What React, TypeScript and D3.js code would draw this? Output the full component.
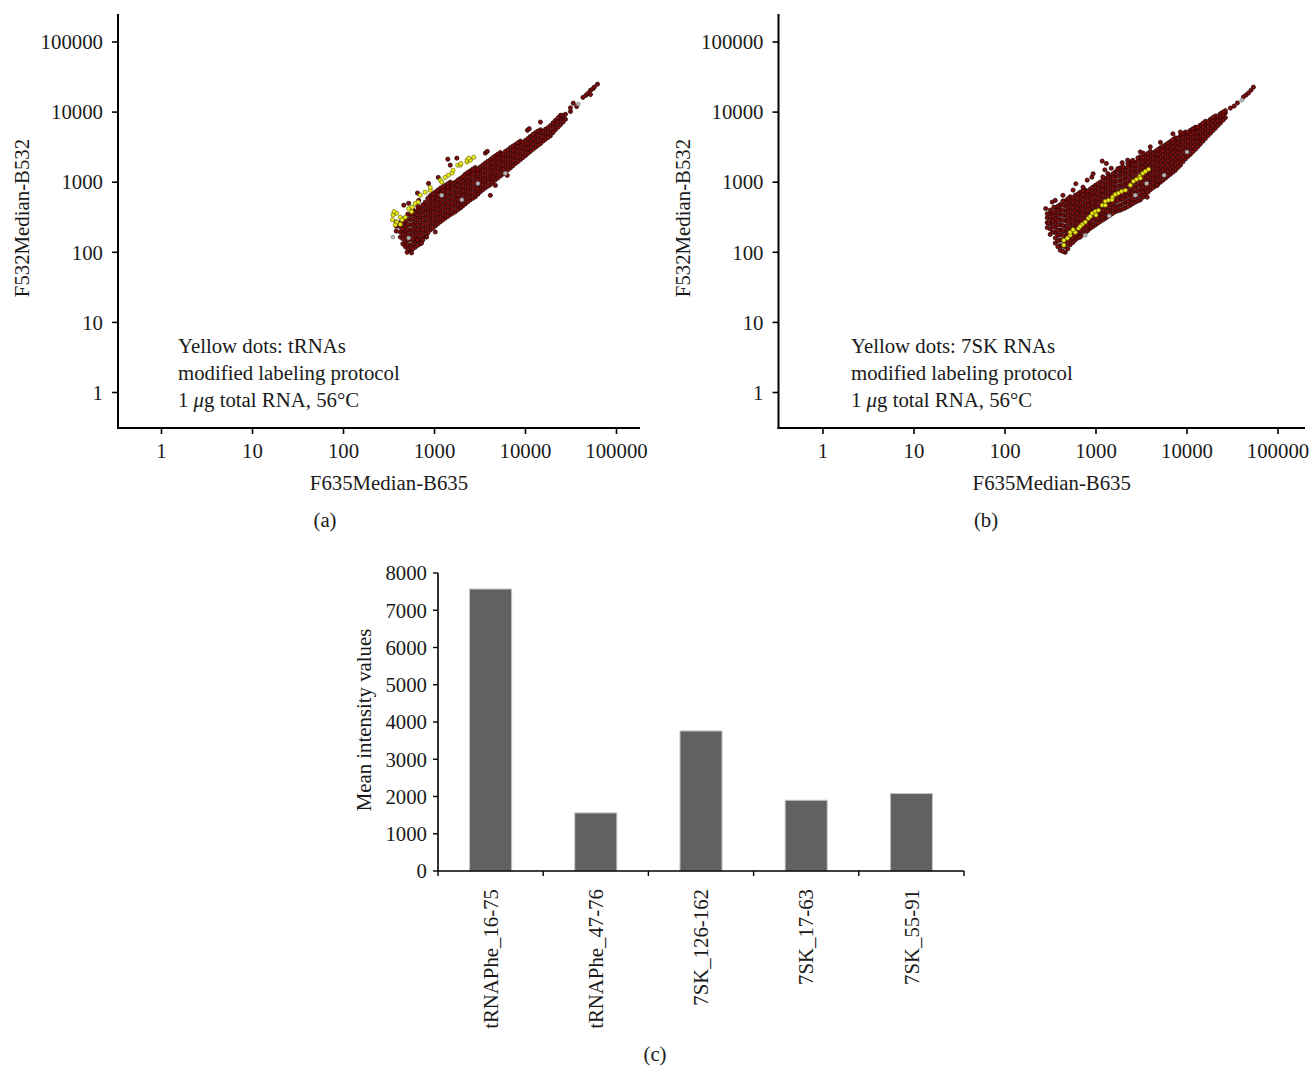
import React from "react";
import * as d3 from "d3";

// log axes of the two scatter panels
const decadeTicks = [1, 10, 100, 1000, 10000, 100000];

// panel (a): each row is [F635Median-B635, F532Median-B532 values ...]
const redBodyA: number[][] = [
  [380, 200, 235, 270],
  [421, 165, 195, 230, 265],
  [477, 120, 140, 165, 195, 230, 270],
  [542, 107, 125, 150, 175, 205, 245, 290, 340],
  [615, 118, 140, 165, 195, 230, 270, 320, 380],
  [698, 132, 158, 188, 222, 262, 310, 365, 430],
  [792, 168, 198, 233, 275, 325, 385, 450, 520],
  [899, 208, 245, 290, 340, 400, 470, 555, 640],
  [1020, 238, 280, 330, 390, 460, 540, 630, 720],
  [1158, 272, 320, 378, 445, 520, 610, 715, 820],
  [1315, 308, 362, 428, 500, 590, 690, 800, 900],
  [1492, 345, 405, 475, 560, 660, 780, 900, 1000],
  [1694, 380, 450, 530, 620, 730, 860, 1000],
  [1922, 430, 510, 600, 700, 820, 960, 1130],
  [2180, 490, 580, 680, 800, 940, 1100, 1300],
  [2477, 560, 660, 780, 920, 1080, 1270, 1450],
  [2810, 620, 730, 860, 1010, 1190, 1400, 1620],
  [3192, 730, 860, 1010, 1190, 1400, 1650],
  [3620, 830, 980, 1150, 1360, 1600, 1880],
  [4113, 920, 1090, 1280, 1510, 1780, 2100],
  [4670, 1080, 1270, 1500, 1770, 2080, 2380],
  [5300, 1230, 1450, 1700, 2000, 2350, 2650],
  [6020, 1400, 1650, 1950, 2300, 2750],
  [6830, 1600, 1900, 2250, 2650, 3100],
  [7760, 1850, 2200, 2600, 3050, 3450],
  [8800, 2100, 2500, 2950, 3450, 3850],
  [10000, 2400, 2850, 3350, 3950],
  [11300, 2750, 3250, 3800, 4500],
  [12900, 3150, 3700, 4400, 5100],
  [14600, 3550, 4200, 4950, 5600],
  [16600, 4100, 4800, 5700],
  [18800, 4600, 5400, 6400],
  [21300, 5600, 6600, 7600],
  [24200, 6600, 7800, 9000],
  [27500, 7900, 9300],
  [31200, 10200, 11500],
  [36500, 12000],
  [42800, 16200],
  [46000, 17300],
  [48500, 18500],
  [51800, 17800, 20500],
  [55000, 21500],
  [57000, 22700],
  [61800, 25000],
];

// spots lying between the rows above
const redFillA: number[][] = [
  [449, 132, 156, 184, 216, 254, 298],
  [509, 112, 130, 152, 180, 212, 250, 296, 350],
  [578, 112, 131, 154, 182, 214, 252, 298, 350, 405],
  [655, 126, 148, 176, 207, 245, 290, 342, 400, 455],
  [744, 150, 176, 208, 245, 290, 342, 402, 475],
  [845, 188, 222, 262, 310, 365, 428, 505, 590],
  [958, 222, 262, 308, 363, 428, 505, 592, 680],
  [1088, 255, 300, 354, 418, 490, 575, 672, 770],
  [1235, 290, 342, 402, 472, 556, 652, 760, 860],
  [1402, 325, 383, 452, 530, 625, 735, 850, 950],
  [1590, 362, 428, 502, 590, 695, 820, 950],
  [1805, 405, 478, 565, 660, 775, 910, 1070],
  [2050, 460, 545, 640, 750, 880, 1030, 1200],
  [2325, 525, 620, 730, 860, 1010, 1190, 1380],
  [2640, 590, 695, 820, 965, 1135, 1335, 1540],
  [3000, 675, 795, 935, 1100, 1295, 1525],
  [3400, 780, 920, 1080, 1270, 1500, 1760],
  [3860, 875, 1035, 1215, 1435, 1690, 1990],
  [4380, 1000, 1180, 1390, 1640, 1930, 2250],
  [4970, 1150, 1360, 1600, 1880, 2200, 2520],
  [5650, 1310, 1550, 1820, 2150, 2520],
  [6410, 1500, 1770, 2090, 2460, 2900],
  [7280, 1720, 2030, 2400, 2830, 3280],
  [8260, 1970, 2330, 2750, 3250, 3650],
  [9380, 2250, 2650, 3130, 3700],
  [10650, 2580, 3050, 3550, 4200],
  [12080, 2950, 3450, 4080, 4800],
  [13700, 3350, 3950, 4650, 5350],
  [15580, 3850, 4500, 5300],
  [17680, 4350, 5100, 6000],
  [20070, 5100, 6000, 7000],
  [22780, 6100, 7200, 8300],
  [25870, 7200, 8500],
];

const redOutA: [number, number][] = [
  [1400, 2130], [1490, 1750], [1760, 2200], [3620, 2600], [3800, 2750],
  [650, 700], [860, 960], [670, 550], [520, 500], [460, 470], [360, 360],
  [1100, 1170], [1020, 195], [820, 165], [720, 135], [650, 150], [1950, 440],
  [4110, 650], [4670, 900], [10500, 5500], [11000, 5800], [14600, 7200],
  [25500, 9000], [6300, 1250], [500, 100], [560, 98], [1160, 315], [20200, 6900],
  [33500, 13400],
];

const grayA: [number, number][] = [
  [6000, 1340], [2000, 560], [3000, 960], [350, 165], [520, 160], [38000, 13000], [1200, 650],
];

const yellowA: [number, number][] = [
  [350, 340], [385, 360], [421, 315], [345, 290], [385, 270], [440, 290], [370, 245],
  [421, 250], [477, 315], [360, 380], [520, 420], [570, 440], [615, 500], [660, 520],
  [560, 380], [698, 652], [790, 720], [900, 770], [899, 840], [1160, 1070], [1200, 1000],
  [1310, 1170], [1420, 1260], [1560, 1350], [1600, 1480], [1800, 1750], [1920, 1750],
  [1950, 1850], [2280, 1940], [2280, 2060], [2480, 2060], [2380, 2200], [2700, 2270],
];

// panel (b)
const redBodyB: number[][] = [
  [291, 225, 265, 310, 355],
  [314, 180, 215, 255, 300, 350, 400],
  [357, 135, 160, 190, 225, 265, 310, 365, 430],
  [405, 107, 125, 150, 180, 210, 250, 295, 350, 410, 480],
  [459, 100, 120, 145, 170, 200, 235, 280, 330, 390, 460, 540],
  [521, 128, 150, 180, 210, 250, 295, 345, 410, 480, 560, 620],
  [592, 150, 175, 205, 240, 285, 335, 395, 465, 550, 650],
  [672, 170, 200, 235, 275, 325, 380, 450, 530, 620, 720],
  [763, 190, 225, 265, 310, 365, 430, 505, 600, 700, 770],
  [866, 220, 260, 305, 360, 420, 495, 580, 680, 800],
  [983, 245, 290, 340, 400, 470, 550, 650, 760, 900],
  [1115, 275, 325, 380, 445, 525, 615, 720, 850, 1000],
  [1266, 305, 360, 425, 500, 585, 690, 810, 950, 1120],
  [1437, 340, 400, 470, 550, 650, 760, 900, 1050, 1230],
  [1631, 380, 450, 530, 620, 730, 860, 1010, 1190, 1400],
  [1851, 400, 470, 560, 650, 770, 900, 1060, 1250, 1450, 1600],
  [2101, 430, 510, 600, 700, 830, 970, 1140, 1340, 1570],
  [2385, 470, 550, 650, 760, 900, 1050, 1240, 1450, 1700, 1950],
  [2707, 520, 610, 720, 850, 1000, 1170, 1380, 1620, 1900],
  [3072, 560, 660, 780, 920, 1080, 1270, 1500, 1760, 2070, 2300],
  [3487, 660, 780, 920, 1080, 1270, 1500, 1760, 2050, 2400],
  [3958, 780, 920, 1080, 1270, 1500, 1760, 2050, 2400, 2750],
  [4493, 880, 1040, 1220, 1440, 1690, 1990, 2340, 2750],
  [5100, 1000, 1180, 1390, 1630, 1920, 2260, 2650, 3100],
  [5788, 1140, 1340, 1580, 1860, 2190, 2570, 3000, 3400],
  [6570, 1300, 1530, 1800, 2120, 2490, 2920, 3400, 3800],
  [7457, 1480, 1740, 2050, 2410, 2830, 3300, 3850, 4300],
  [8464, 1750, 2060, 2420, 2850, 3350, 3900, 4600],
  [9607, 2150, 2530, 2980, 3500, 4100, 4800, 5200],
  [10900, 2500, 2950, 3450, 4050, 4750, 5500],
  [12400, 2950, 3450, 4050, 4750, 5550, 6100],
  [14000, 3500, 4100, 4800, 5650, 6500],
  [15900, 4200, 4900, 5750, 6750, 7400],
  [18100, 5000, 5850, 6850, 7900],
  [20500, 5900, 6900, 8100, 8800],
  [23300, 7000, 8200, 9500],
  [26400, 8300, 9700, 10500],
  [30000, 11400],
  [33000, 12200],
  [35800, 13500],
  [41700, 16400],
  [44500, 17500],
  [47300, 18700],
  [50500, 20500],
  [53700, 22700],
];

const redFillB: number[][] = [
  [335, 195, 235, 278, 325, 375],
  [381, 120, 145, 173, 205, 244, 287, 335, 395, 455],
  [432, 103, 122, 147, 174, 204, 241, 286, 338, 398, 470, 540],
  [490, 112, 134, 160, 189, 223, 264, 310, 368, 433, 508, 580],
  [556, 138, 162, 191, 224, 266, 313, 368, 436, 513, 600],
  [631, 160, 188, 220, 257, 303, 356, 420, 495, 583, 680],
  [716, 180, 212, 250, 292, 344, 404, 476, 563, 658, 750],
  [813, 204, 242, 284, 334, 392, 462, 542, 638, 745],
  [923, 232, 274, 322, 380, 444, 522, 614, 718, 850],
  [1047, 260, 306, 360, 422, 496, 582, 684, 802, 950],
  [1189, 290, 342, 402, 472, 554, 652, 764, 898, 1060, 1190],
  [1349, 322, 380, 447, 525, 617, 725, 852, 1000, 1175, 1330],
  [1531, 360, 425, 500, 585, 690, 810, 955, 1120, 1315],
  [1738, 390, 460, 545, 635, 750, 880, 1035, 1220, 1425, 1560],
  [1973, 415, 490, 580, 675, 800, 935, 1100, 1295, 1510, 1680],
  [2239, 450, 530, 625, 730, 865, 1010, 1190, 1395, 1635, 1850],
  [2541, 495, 580, 685, 805, 950, 1110, 1310, 1535, 1800, 2050],
  [2885, 540, 635, 750, 885, 1040, 1220, 1440, 1690, 1985, 2220],
  [3274, 610, 720, 850, 1000, 1175, 1385, 1630, 1905, 2235],
  [3716, 720, 850, 1000, 1175, 1385, 1630, 1905, 2225, 2575],
  [4218, 830, 980, 1150, 1355, 1595, 1875, 2195, 2575],
  [4787, 940, 1110, 1305, 1535, 1805, 2125, 2495, 2925],
  [5433, 1070, 1260, 1485, 1745, 2055, 2415, 2825, 3250],
  [6167, 1220, 1435, 1690, 1990, 2340, 2745, 3200, 3600],
  [7000, 1390, 1635, 1925, 2265, 2660, 3110, 3625, 4050],
  [7945, 1615, 1900, 2235, 2630, 3090, 3600, 4250],
  [9018, 1950, 2295, 2700, 3175, 3725, 4350, 4900],
  [10240, 2325, 2740, 3215, 3775, 4425, 5150],
  [11620, 2725, 3200, 3750, 4400, 5150, 5800],
  [13190, 3225, 3775, 4425, 5200, 6050],
  [14970, 3850, 4500, 5275, 6200, 6950],
  [16990, 4600, 5375, 6300, 7325],
  [19280, 5450, 6375, 7475, 8350],
  [21890, 6450, 7550, 8800],
  [24840, 7650, 8950, 10000],
];

const redOutB: [number, number][] = [
  [1170, 2000], [1300, 1850], [1470, 1580], [1940, 1900], [2230, 2060], [3300, 2600],
  [3070, 2700], [8460, 5200], [345, 440], [300, 260], [357, 550], [433, 650],
  [560, 770], [720, 850], [800, 1070], [900, 1180], [930, 1320], [670, 165],
  [870, 230], [1170, 315], [1700, 425], [3650, 610], [4700, 900], [3950, 3200],
  [5100, 3700], [7000, 4900], [280, 420], [330, 520], [1250, 1500], [600, 950],
];

const grayB: [number, number][] = [
  [5600, 1260], [3600, 960], [760, 175], [2700, 650], [40000, 14800], [1400, 330], [10000, 2700],
];

const yellowB: [number, number][] = [
  [443, 126], [443, 148], [484, 159], [521, 175], [521, 193], [592, 193], [643, 220],
  [706, 250], [763, 270], [825, 305], [910, 360], [983, 385], [1065, 398], [1170, 470],
  [1266, 470], [1266, 535], [1370, 553], [1520, 612], [1631, 670], [1765, 700],
  [1910, 740], [2101, 768], [2385, 906], [2580, 1030], [2790, 1100], [3020, 1210],
  [3270, 1340], [3487, 1430], [3780, 1530], [3072, 1140], [866, 325], [672, 235],
  [560, 210], [1000, 340], [1500, 560],
];

// panel (c)
const barCategories = ["tRNAPhe_16-75", "tRNAPhe_47-76", "7SK_126-162", "7SK_17-63", "7SK_55-91"];
const barValues = [7570, 1560, 3760, 1900, 2080];
const barTicks = [0, 1000, 2000, 3000, 4000, 5000, 6000, 7000, 8000];

const FONT = "'Liberation Serif', 'DejaVu Serif', 'Times New Roman', serif";
const FS = 20.8;

const expand = (cols: number[][]): [number, number][] => {
  const out: [number, number][] = [];
  cols.forEach(([x, ...ys]) => ys.forEach((y) => out.push([x, y])));
  return out;
};

interface ScatterProps {
  left: number;
  right: number;
  xRange: [number, number];
  noteX: number;
  red: [number, number][];
  gray: [number, number][];
  yellow: [number, number][];
  what: string;
  tag: string;
  tagX: number;
}

const Scatter: React.FC<ScatterProps> = ({ left, right, xRange, noteX, red, gray, yellow, what, tag, tagX }) => {
  const x = d3.scaleLog().domain([1, 100000]).range(xRange);
  const y = d3.scaleLog().domain([1, 100000]).range([392.5, 42]);
  const top = 14;
  const base = 428;
  const midX = (left + right) / 2;
  const fmt = d3.format("d");

  return (
    <g>
      {red.map((d, i) => (
        <circle key={"r" + i} cx={x(d[0])} cy={y(d[1])} r={2.1} fill="#7e0e0e" stroke="#200202" strokeWidth={0.7} />
      ))}
      {gray.map((d, i) => (
        <circle key={"g" + i} cx={x(d[0])} cy={y(d[1])} r={2.0} fill="#b8b8b8" stroke="#808080" strokeWidth={0.6} />
      ))}
      {yellow.map((d, i) => (
        <circle key={"y" + i} cx={x(d[0])} cy={y(d[1])} r={2.1} fill="#ecec1c" stroke="#5c5c00" strokeWidth={0.6} />
      ))}

      <line x1={left} x2={left} y1={top} y2={base + 1} stroke="#000" strokeWidth={2} />
      <line x1={left - 1} x2={right} y1={base} y2={base} stroke="#000" strokeWidth={2} />

      {decadeTicks.map((t) => (
        <g key={"yt" + t}>
          <line x1={left - 6} x2={left} y1={y(t)} y2={y(t)} stroke="#000" strokeWidth={1.6} />
          <text x={left - 15} y={y(t)} dy="0.35em" textAnchor="end">
            {fmt(t)}
          </text>
        </g>
      ))}
      {decadeTicks.map((t) => (
        <g key={"xt" + t}>
          <line x1={x(t)} x2={x(t)} y1={base} y2={base + 6} stroke="#000" strokeWidth={1.6} />
          <text x={x(t)} y={451} dy="0.35em" textAnchor="middle">
            {fmt(t)}
          </text>
        </g>
      ))}

      <text transform={`translate(${left - 89},218) rotate(-90)`} textAnchor="middle">
        F532Median-B532
      </text>
      <text x={midX + 10} y={490} textAnchor="middle">
        F635Median-B635
      </text>
      <text x={tagX} y={527} textAnchor="middle">
        {tag}
      </text>

      <text x={noteX} y={353}>Yellow dots: {what}</text>
      <text x={noteX} y={380}>modified labeling protocol</text>
      <text x={noteX} y={407}>
        1 <tspan fontStyle="italic">μ</tspan>g total RNA, 56°C
      </text>
    </g>
  );
};

const BarPanel: React.FC = () => {
  const y = d3.scaleLinear().domain([0, 8000]).range([871, 573]);
  const x = d3.scaleBand<string>().domain(barCategories).range([438, 964]).paddingInner(0.6).paddingOuter(0.3);
  const step = x.step();
  const x0 = 438;

  return (
    <g>
      {barCategories.map((c, i) => (
        <rect
          key={c}
          x={x(c)}
          y={y(barValues[i])}
          width={x.bandwidth()}
          height={y(0) - y(barValues[i])}
          fill="#616161"
          stroke="#c6c6c6"
          strokeWidth={1}
        />
      ))}
      <line x1={x0} x2={x0} y1={573} y2={871} stroke="#000" strokeWidth={1.6} />
      <line x1={x0} x2={964} y1={871} y2={871} stroke="#000" strokeWidth={1.6} />
      {barTicks.map((t) => (
        <g key={t}>
          <line x1={x0 - 5} x2={x0} y1={y(t)} y2={y(t)} stroke="#000" strokeWidth={1.4} />
          <text x={x0 - 11} y={y(t)} dy="0.35em" textAnchor="end">
            {t}
          </text>
        </g>
      ))}
      {d3.range(barCategories.length + 1).map((i) => (
        <line key={"b" + i} x1={x0 + step * i} x2={x0 + step * i} y1={871} y2={876} stroke="#000" strokeWidth={1.4} />
      ))}
      {barCategories.map((c) => (
        <text
          key={"l" + c}
          transform={`translate(${(x(c) ?? 0) + x.bandwidth() / 2},889) rotate(-90)`}
          dy="0.35em"
          textAnchor="end"
        >
          {c}
        </text>
      ))}
      <text transform="translate(371,720) rotate(-90)" textAnchor="middle">
        Mean intensity values
      </text>
      <text x={655} y={1061} textAnchor="middle">
        (c)
      </text>
    </g>
  );
};

const App: React.FC = () => {
  return (
    <svg
      width={1310}
      height={1066}
      style={{ position: "absolute", left: 0, top: 0, background: "#fff" }}
      fontFamily={FONT}
      fontSize={FS}
      fill="#1a1a1a"
    >
      <Scatter
        left={118}
        right={640}
        xRange={[161.5, 616.5]}
        noteX={178}
        red={[...expand(redBodyA), ...expand(redFillA), ...redOutA]}
        gray={grayA}
        yellow={yellowA}
        what="tRNAs"
        tag="(a)"
        tagX={325}
      />
      <Scatter
        left={778.5}
        right={1305}
        xRange={[823, 1278]}
        noteX={851}
        red={[...expand(redBodyB), ...expand(redFillB), ...redOutB]}
        gray={grayB}
        yellow={yellowB}
        what="7SK RNAs"
        tag="(b)"
        tagX={986}
      />
      <BarPanel />
    </svg>
  );
};

export default App;
